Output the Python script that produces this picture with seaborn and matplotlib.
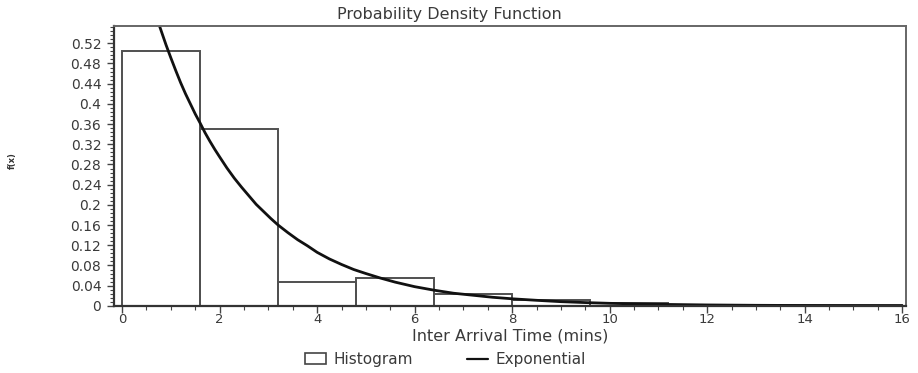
import numpy as np
import pandas as pd
import matplotlib
matplotlib.use("Agg")
import matplotlib.pyplot as plt
from matplotlib.ticker import MultipleLocator, FuncFormatter
from matplotlib.lines import Line2D
from matplotlib.patches import Rectangle
import seaborn as sns

# Histogram of inter-arrival times (density per bin)
bin_edges = [0.0, 1.6, 3.2, 4.8, 6.4, 8.0, 9.6, 11.2, 12.8, 14.4, 16.0]
bin_density = [0.505, 0.350, 0.048, 0.056, 0.024, 0.011, 0.006, 0.002, 0.001, 0.002]

# Fitted exponential density, sampled along the curve
curve_x = [0.70, 0.80, 0.90, 1.00, 1.10, 1.20, 1.30, 1.40, 1.50, 1.60, 1.70,
           1.80, 1.90, 2.00, 2.15, 2.30, 2.45, 2.60, 2.75, 2.90, 3.05, 3.20,
           3.40, 3.60, 3.80, 4.00, 4.25, 4.50, 4.75, 5.00, 5.30, 5.60, 6.00,
           6.40, 6.80, 7.20, 7.60, 8.00, 8.50, 9.00, 9.50, 10.0, 11.0, 12.0,
           13.0, 14.0, 15.0, 16.0]
curve_y = [0.573, 0.545, 0.517, 0.491, 0.466, 0.442, 0.420, 0.400, 0.380,
           0.362, 0.343, 0.326, 0.310, 0.295, 0.273, 0.253, 0.235, 0.218,
           0.201, 0.187, 0.173, 0.160, 0.145, 0.131, 0.119, 0.106, 0.093,
           0.082, 0.072, 0.064, 0.055, 0.047, 0.038, 0.031, 0.025, 0.021,
           0.017, 0.014, 0.011, 0.0083, 0.0065, 0.0050, 0.0030, 0.0018,
           0.0011, 0.0007, 0.0004, 0.0002]

title = "Probability Density Function"
x_label = "Inter Arrival Time (mins)"
y_label = "f(x)"

sns.set_theme(style="ticks")
plt.rcParams["font.family"] = ["DejaVu Sans"]
text_col = "#3a3a3a"
bar_col = "#505050"

fig = plt.figure(figsize=(9.18, 3.73), dpi=100)
ax = fig.add_axes([0.124, 0.180, 0.863, 0.750])

centers = [(a + b) / 2 for a, b in zip(bin_edges[:-1], bin_edges[1:])]
hist_df = pd.DataFrame({"t": centers, "w": bin_density})
sns.histplot(data=hist_df, x="t", weights="w", bins=bin_edges, stat="count",
             fill=False, element="bars", color=bar_col, linewidth=1.4,
             ax=ax)

curve_df = pd.DataFrame({"t": curve_x, "f": curve_y})
sns.lineplot(data=curve_df, x="t", y="f", color="#111111", linewidth=2.0, ax=ax)

ax.set_xlim(-0.17, 16.08)
ax.set_ylim(0, 0.554)

ax.xaxis.set_major_locator(MultipleLocator(2))
ax.xaxis.set_minor_locator(MultipleLocator(0.5))
ax.yaxis.set_major_locator(MultipleLocator(0.04))
ax.yaxis.set_minor_locator(MultipleLocator(0.008))


def fmt_y(v, pos):
    s = f"{v:.2f}".rstrip("0").rstrip(".")
    return s if s else "0"


ax.yaxis.set_major_formatter(FuncFormatter(fmt_y))

ax.tick_params(axis="both", which="major", direction="out", length=5,
               width=1.0, color="#444444", labelsize=10, labelcolor=text_col)
ax.tick_params(axis="y", which="major", pad=4)
ax.tick_params(axis="x", which="major", pad=0, labelsize=9.5)
ax.tick_params(axis="both", which="minor", direction="out", length=3,
               width=0.8, color="#444444")

for side in ["top", "right"]:
    ax.spines[side].set_visible(True)
    ax.spines[side].set_color("#666666")
    ax.spines[side].set_linewidth(1.4)
for side in ["left", "bottom"]:
    ax.spines[side].set_color("#333333")
    ax.spines[side].set_linewidth(1.6)

fig.text(0.489, 0.962, title, fontsize=11.5, color=text_col,
         ha="center", va="center")
ax.set_xlabel("")
fig.text(0.5555, 0.098, x_label, fontsize=11.5, color=text_col,
         ha="center", va="center")
ax.set_ylabel("")
fig.text(0.014, 0.57, y_label, rotation=90, fontsize=6, fontweight="bold",
         color="#333333", ha="center", va="center")
ax.grid(False)

handles = [Rectangle((0, 0), 1, 1, facecolor="none", edgecolor="#444444",
                     linewidth=1.2),
           Line2D([0], [0], color="#111111", linewidth=1.6)]
fig.legend(handles, ["Histogram", "Exponential"], loc="center",
           bbox_to_anchor=(0.485, 0.036), ncol=2, frameon=False,
           fontsize=11, labelcolor=text_col, handlelength=1.4,
           handletextpad=0.5, columnspacing=3.5)

fig.savefig("out.png", dpi=100)
